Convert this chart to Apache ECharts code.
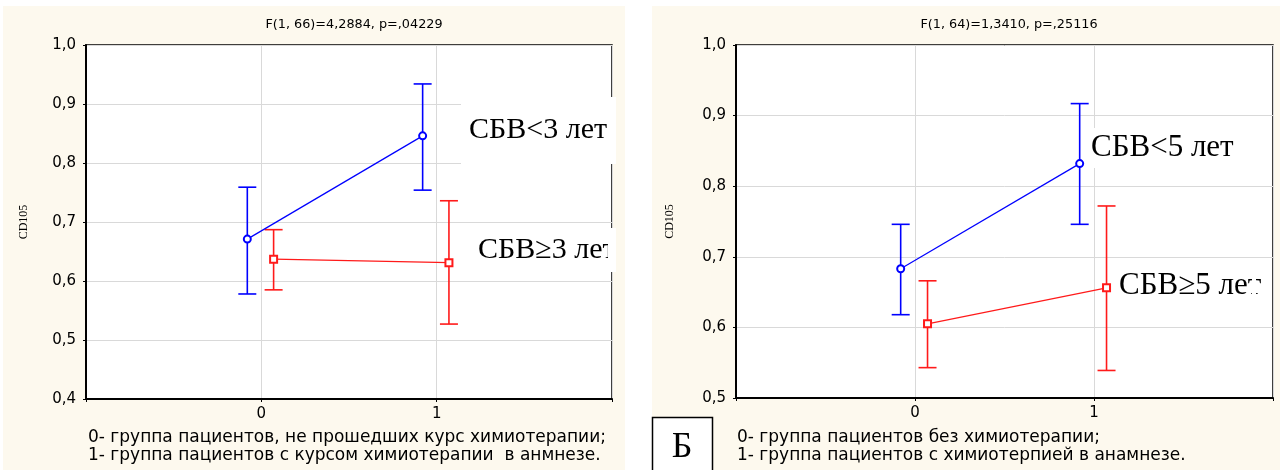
<!DOCTYPE html>
<html><head><meta charset="utf-8">
<script src="https://cdn.jsdelivr.net/npm/echarts@6/dist/echarts.min.js"></script>
<style>html,body{margin:0;padding:0;background:#fff}#c{width:1280px;height:470px}</style>
</head><body><div id="c"></div>
<script>
// ---- data ----
const groups = [0, 1];
const leftTitle = 'F(1, 66)=4,2884, p=,04229';
const rightTitle = 'F(1, 64)=1,3410, p=,25116';
const yName = 'CD105';
const leftBlueMean = [0.671, 0.846];
const leftBlueLow  = [0.578, 0.754];
const leftBlueHigh = [0.759, 0.934];
const leftRedMean  = [0.637, 0.631];
const leftRedLow   = [0.585, 0.527];
const leftRedHigh  = [0.687, 0.736];
const rightBlueMean = [0.683, 0.832];
const rightBlueLow  = [0.618, 0.746];
const rightBlueHigh = [0.746, 0.917];
const rightRedMean  = [0.605, 0.656];
const rightRedLow   = [0.543, 0.539];
const rightRedHigh  = [0.666, 0.772];
const leftLabels = ['СБВ<3 лет', 'СБВ≥3 лет'];
const rightLabels = ['СБВ<5 лет', 'СБВ≥5 лет'];
const leftNote = ['0- группа пациентов, не прошедших курс химиотерапии;', '1- группа пациентов с курсом химиотерапии  в анмнезе.'];
const rightNote = ['0- группа пациентов без химиотерапии;', '1- группа пациентов с химиотерпией в анамнезе.'];
const panelMark = 'Б';

// ---- layout/style ----
const BLUE = '#0000ff', RED = '#ff1a1a';
const OFF_BLUE = -0.08, OFF_RED = 0.07;
const SANS = 'DejaVu Sans', SERIF = 'Liberation Serif';
const CREAM = '#fdf9ee';

function pts(mean, off){ return groups.map((g,i)=>[g+off, mean[i]]); }
function errs(low, high, off){ return groups.map((g,i)=>[g+off, low[i], high[i]]); }

function errSeries(idx, low, high, off, color){
  return {
    type:'custom', xAxisIndex:idx, yAxisIndex:idx, z:3,
    data: errs(low, high, off),
    renderItem(params, api){
      const x = api.value(0);
      const top = api.coord([x, api.value(2)]);
      const bot = api.coord([x, api.value(1)]);
      const h = 9;
      const st = {stroke: color, lineWidth: 1.6};
      return {type:'group', children:[
        {type:'line', shape:{x1:top[0],y1:top[1],x2:bot[0],y2:bot[1]}, style:st},
        {type:'line', shape:{x1:top[0]-h,y1:top[1],x2:top[0]+h,y2:top[1]}, style:st},
        {type:'line', shape:{x1:bot[0]-h,y1:bot[1],x2:bot[0]+h,y2:bot[1]}, style:st}
      ]};
    }
  };
}
function lineSeries(idx, mean, off, color, sym){
  return {
    type:'line', xAxisIndex:idx, yAxisIndex:idx, z:4,
    data: pts(mean, off), symbol: sym, symbolSize: 7,
    lineStyle:{color, width:1.2}, itemStyle:{color, borderColor:color, borderWidth:1.2},
    animation:false
  };
}
function xAx(idx){
  return {
    type:'value', gridIndex:idx, min:-1, max:2, interval:1,
    axisLine:{show:true, onZero:false, lineStyle:{color:'#000', width:2}},
    axisTick:{show:true, length:3, lineStyle:{color:'#000'}},
    axisLabel:{fontFamily:SANS, fontSize:15, color:'#000', margin:8,
      formatter: v => (v===0||v===1) ? String(v) : ''},
    splitLine:{show:true, lineStyle:{color:'#d9d9d9', width:1}}
  };
}
function yAx(idx, min, gap){
  return {
    type:'value', gridIndex:idx, min, max:1.0, interval:0.1,
    name: yName, nameLocation:'middle', nameGap: gap, nameRotate:90,
    nameTextStyle:{fontFamily:SERIF, fontSize:12, color:'#000'},
    axisLine:{show:true, onZero:false, lineStyle:{color:'#000', width:2}},
    axisTick:{show:true, length:3, lineStyle:{color:'#000'}},
    axisLabel:{fontFamily:SANS, fontSize:15, color:'#000', margin:10,
      formatter: v => v.toFixed(1).replace('.', ',')},
    splitLine:{show:true, lineStyle:{color:'#d9d9d9', width:1}}
  };
}
function labelBox(x, y, w, h, tx, text, size, clipX){
  const els = [
    {type:'rect', z:50, shape:{x, y, width:w, height:h}, style:{fill:'#fff'}},
    {type:'text', z:51, x: tx, y: y+h/2, style:{text, fontFamily:SERIF, fontSize:size, fill:'#000', textVerticalAlign:'middle'}}
  ];
  if (clipX) els.push({type:'rect', z:52, shape:{x:clipX, y, width:x+w-clipX, height:h}, style:{fill:'#fff'}});
  return els;
}
function note(x, y, text){
  return {type:'text', x, y, style:{text, fontFamily:SANS, fontSize:17, fill:'#000', textVerticalAlign:'middle'}};
}

const chart = echarts.init(document.getElementById('c'), null, {renderer:'canvas'});
chart.setOption({
  animation:false,
  backgroundColor:'#fff',
  title:[
    {text:leftTitle, left:349, top:13, textAlign:'center', textStyle:{fontFamily:SANS, fontSize:12.8, fontWeight:'normal', color:'#000'}},
    {text:rightTitle, left:1004, top:13, textAlign:'center', textStyle:{fontFamily:SANS, fontSize:12.8, fontWeight:'normal', color:'#000'}}
  ],
  grid:[
    {left:86, top:45, width:526, height:354, show:true, backgroundColor:'#fff', borderColor:'#000', borderWidth:1.5},
    {left:736, top:45, width:537, height:353, show:true, backgroundColor:'#fff', borderColor:'#000', borderWidth:1.5}
  ],
  xAxis:[xAx(0), xAx(1)],
  yAxis:[yAx(0, 0.4, 56), yAx(1, 0.5, 60)],
  series:[
    errSeries(0, leftBlueLow, leftBlueHigh, OFF_BLUE, BLUE),
    errSeries(0, leftRedLow, leftRedHigh, OFF_RED, RED),
    lineSeries(0, leftBlueMean, OFF_BLUE, BLUE, 'emptyCircle'),
    lineSeries(0, leftRedMean, OFF_RED, RED, 'emptyRect'),
    errSeries(1, rightBlueLow, rightBlueHigh, OFF_BLUE, BLUE),
    errSeries(1, rightRedLow, rightRedHigh, OFF_RED, RED),
    lineSeries(1, rightBlueMean, OFF_BLUE, BLUE, 'emptyCircle'),
    lineSeries(1, rightRedMean, OFF_RED, RED, 'emptyRect')
  ],
  graphic:[
    {type:'rect', z:-10, shape:{x:3, y:6, width:622, height:464}, style:{fill:CREAM}},
    {type:'rect', z:-10, shape:{x:652, y:6, width:628, height:464}, style:{fill:CREAM}},
    ...labelBox(461, 97, 155, 67, 469, leftLabels[0], 30),
    ...labelBox(465, 228, 151, 44, 478, leftLabels[1], 30, 608),
    ...labelBox(1087, 128, 165, 40, 1091, rightLabels[0], 31),
    ...labelBox(1113, 268, 143, 36, 1119, rightLabels[1], 31, 1252),
    note(88, 438, leftNote[0]),
    note(88, 456, leftNote[1]),
    note(737, 438, rightNote[0]),
    note(737, 456, rightNote[1]),
    {type:'rect', z:20, shape:{x:652.5, y:417.5, width:60, height:60}, style:{fill:'#fff', stroke:'#000', lineWidth:1.5}},
    {type:'text', z:21, x:682, y:448, style:{text:panelMark, fontFamily:SERIF, fontSize:36, fill:'#000', textAlign:'center', textVerticalAlign:'middle'}}
  ]
});
</script>
</body></html>
